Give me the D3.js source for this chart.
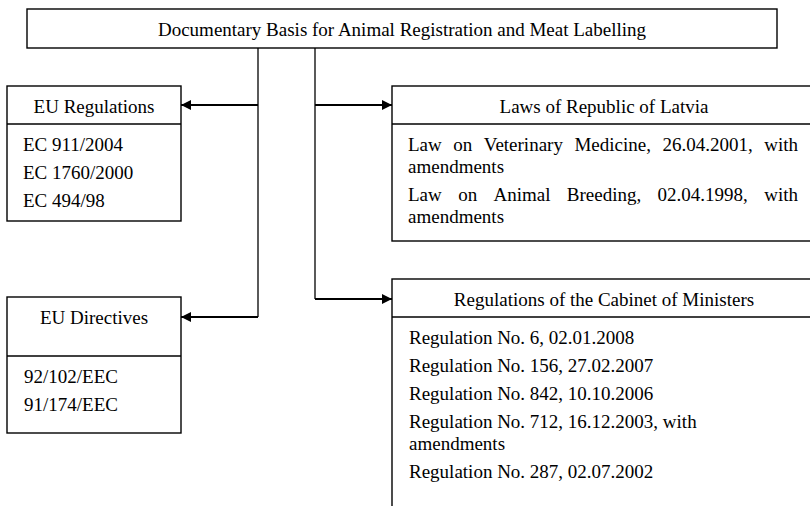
<!DOCTYPE html>
<html>
<head>
<meta charset="utf-8">
<script src="https://cdn.jsdelivr.net/npm/d3@7"></script>
<style>
  html, body { margin: 0; padding: 0; background: #fff; }
  svg { display: block; }
  text { font-family: "Liberation Serif", "Times New Roman", serif; font-size: 19px; fill: #000; }
</style>
</head>
<body>
<svg id="chart" width="810" height="506"></svg>
<script>
// ---- content ----
const topTitle = "Documentary Basis for Animal Registration and Meat Labelling";
const boxTitles = ["EU Regulations", "Laws of Republic of Latvia", "EU Directives", "Regulations of the Cabinet of Ministers"];
const euRegulations = [["EC 911/2004"], ["EC 1760/2000"], ["EC 494/98"]];
const lawsLatvia = [
  ["Law on Veterinary Medicine, 26.04.2001, with", "amendments"],
  ["Law on Animal Breeding, 02.04.1998, with", "amendments"]
];
const euDirectives = [["92/102/EEC"], ["91/174/EEC"]];
const cabinetRegs = [
  ["Regulation No. 6, 02.01.2008"],
  ["Regulation No. 156, 27.02.2007"],
  ["Regulation No. 842, 10.10.2006"],
  ["Regulation No. 712, 16.12.2003, with", "amendments"],
  ["Regulation No. 287, 02.07.2002"]
];

// ---- layout ----
const svg = d3.select("#chart");
const defs = svg.append("defs");
defs.append("marker")
  .attr("id", "arrow").attr("viewBox", "0 0 10 10")
  .attr("refX", 10).attr("refY", 5)
  .attr("markerUnits", "userSpaceOnUse")
  .attr("markerWidth", 11).attr("markerHeight", 10)
  .attr("orient", "auto")
  .append("path").attr("d", "M0,0 L10,5 L0,10 Z").attr("fill", "#000");

const stroke = "#000";
const boxes = [
  { title: boxTitles[0], items: euRegulations, x0: 7, x1: 181, y0: 86, yDiv: 124, y1: 221, justify: false, tx: 23 },
  { title: boxTitles[1], items: lawsLatvia, x0: 392, x1: 816, y0: 86, yDiv: 124, y1: 241, justify: true, tx: 408, txr: 798 },
  { title: boxTitles[2], items: euDirectives, x0: 7, x1: 181, y0: 297, yDiv: 356, y1: 433, justify: false, tx: 24 },
  { title: boxTitles[3], items: cabinetRegs, x0: 392, x1: 816, y0: 279, yDiv: 317, y1: 530, justify: false, tx: 409 }
];

// top box
const topBox = { x0: 27, x1: 777, y0: 9, y1: 48 };
svg.append("rect").attr("x", topBox.x0).attr("y", topBox.y0)
  .attr("width", topBox.x1 - topBox.x0).attr("height", topBox.y1 - topBox.y0)
  .attr("fill", "none").attr("stroke", stroke).attr("stroke-width", 1.4);
svg.append("text").attr("x", (topBox.x0 + topBox.x1) / 2).attr("y", 36)
  .attr("text-anchor", "middle").text(topTitle);

// connectors
const xL = 258, xR = 315;
const line = d3.line();
const connectors = [
  { pts: [[xL, topBox.y1], [xL, 317]], arrow: false },
  { pts: [[xR, topBox.y1], [xR, 299]], arrow: false },
  { pts: [[xL, 105], [181, 105]], arrow: true },
  { pts: [[xR, 105], [392, 105]], arrow: true },
  { pts: [[xL, 317], [181, 317]], arrow: true },
  { pts: [[xR, 299], [392, 299]], arrow: true }
];

// boxes
const lineStep = 22, paraStep = 28;
boxes.forEach(b => {
  const g = svg.append("g");
  g.append("rect").attr("x", b.x0).attr("y", b.y0)
    .attr("width", b.x1 - b.x0).attr("height", b.y1 - b.y0)
    .attr("fill", "#fff").attr("stroke", stroke).attr("stroke-width", 1.4);
  g.append("line").attr("x1", b.x0).attr("x2", b.x1).attr("y1", b.yDiv).attr("y2", b.yDiv)
    .attr("stroke", stroke).attr("stroke-width", 1.4);
  g.append("text").attr("x", (b.x0 + b.x1) / 2).attr("y", b.y0 + 27)
    .attr("text-anchor", "middle").text(b.title);
  let y = b.yDiv + 27;
  b.items.forEach(par => {
    par.forEach((ln, i) => {
      const last = i === par.length - 1;
      if (b.justify && !last) {
        const words = ln.split(" ");
        const ws = words.map(w => {
          const t = g.append("text").attr("x", 0).attr("y", -100).text(w);
          const len = t.node().getComputedTextLength();
          t.remove();
          return len;
        });
        const total = d3.sum(ws);
        const gap = (b.txr - b.tx - total) / (words.length - 1);
        let x = b.tx;
        words.forEach((w, k) => {
          g.append("text").attr("x", x).attr("y", y).text(w);
          x += ws[k] + gap;
        });
      } else {
        g.append("text").attr("x", b.tx).attr("y", y).text(ln);
      }
      if (!last) y += lineStep;
    });
    y += paraStep;
  });
});

svg.selectAll("path.conn").data(connectors).join("path")
  .attr("class", "conn")
  .attr("d", d => line(d.pts))
  .attr("fill", "none").attr("stroke", stroke)
  .attr("stroke-width", d => d.arrow ? 1.9 : 1.3)
  .attr("marker-end", d => d.arrow ? "url(#arrow)" : null);
</script>
</body>
</html>
